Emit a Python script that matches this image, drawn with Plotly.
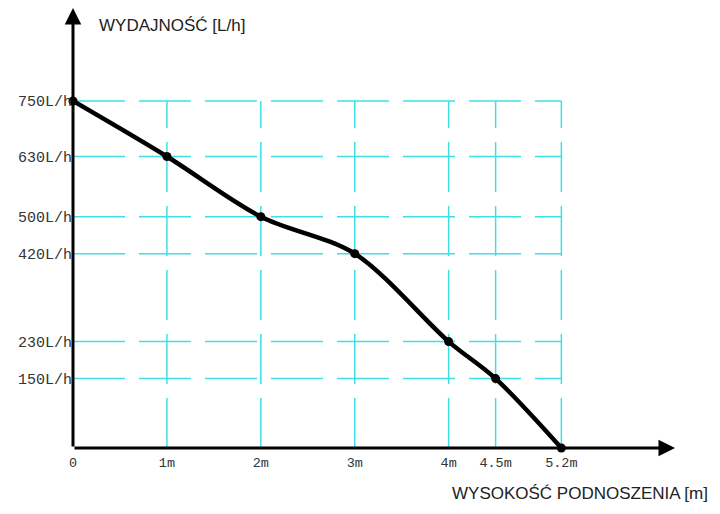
import plotly.graph_objects as go

# pump curve: lift height [m] vs flow [L/h]
lift_m = [0, 1, 2, 3, 4, 4.5, 5.2]
flow_lh = [750, 630, 500, 420, 230, 150, 0]

x_tick_vals = [0, 1, 2, 3, 4, 4.5, 5.2]
x_tick_text = ["0", "1m", "2m", "3m", "4m", "4.5m", "5.2m"]
y_tick_vals = [750, 630, 500, 420, 230, 150]
y_tick_text = ["750L/h", "630L/h", "500L/h", "420L/h", "230L/h", "150L/h"]

grid_color = "#3fdfe8"
x_max = 6.41
y_max = 951

fig = go.Figure()

fig.add_trace(go.Scatter(
    x=lift_m,
    y=flow_lh,
    mode="lines+markers",
    line=dict(color="black", width=4.5, shape="spline", smoothing=0.9),
    marker=dict(color="black", size=9),
    cliponaxis=False,
    showlegend=False,
))

# dashed cyan grid, only inside the data box
shapes = []
for xv in x_tick_vals[1:]:
    shapes.append(dict(type="line", xref="x", yref="y", x0=xv, x1=xv,
                       y0=0, y1=max(y_tick_vals), layer="below",
                       line=dict(color=grid_color, width=1.5, dash="50px,14px")))
for yv in y_tick_vals:
    shapes.append(dict(type="line", xref="x", yref="y", x0=0, x1=max(x_tick_vals),
                       y0=yv, y1=yv, layer="below",
                       line=dict(color=grid_color, width=1.5, dash="52px,14px")))

annotations = [
    # axes with arrows
    dict(x=x_max, y=0, ax=0, ay=0, xref="x", yref="y", axref="x", ayref="y",
         text="", showarrow=True, arrowhead=2, arrowsize=1.1, arrowwidth=3,
         arrowcolor="black"),
    dict(x=0, y=y_max, ax=0, ay=0, xref="x", yref="y", axref="x", ayref="y",
         text="", showarrow=True, arrowhead=2, arrowsize=1.1, arrowwidth=3,
         arrowcolor="black"),
    # axis titles
    dict(text="WYDAJNOŚĆ [L/h]", xref="paper", yref="paper", x=0.04, y=0.961,
         xanchor="left", yanchor="middle", showarrow=False,
         font=dict(family="Liberation Sans", size=17, color="#222")),
    dict(text="WYSOKOŚĆ PODNOSZENIA [m]", xref="paper", yref="paper", x=1.058, y=-0.1045,
         xanchor="right", yanchor="middle", showarrow=False,
         font=dict(family="Liberation Sans", size=17, color="#222")),
]

# the page has an 8px body margin, so the figure is 8px smaller
fig.update_layout(
    width=712,
    height=506,
    margin=dict(l=65, r=45, t=0, b=66, autoexpand=False),
    plot_bgcolor="white",
    paper_bgcolor="white",
    shapes=shapes,
    annotations=annotations,
    xaxis=dict(
        range=[0, x_max],
        tickmode="array",
        tickvals=x_tick_vals,
        ticktext=x_tick_text,
        showgrid=False,
        zeroline=False,
        showline=False,
        ticks="",
        ticklabelstandoff=4,
        tickfont=dict(family="Liberation Mono", size=13.5, color="#333"),
    ),
    yaxis=dict(
        range=[0, y_max],
        tickmode="array",
        tickvals=y_tick_vals,
        ticktext=y_tick_text,
        showgrid=False,
        zeroline=False,
        showline=False,
        ticks="",
        ticklabelstandoff=0,
        tickfont=dict(family="Liberation Mono", size=15, color="#333"),
    ),
)

fig.write_html("out.html")
